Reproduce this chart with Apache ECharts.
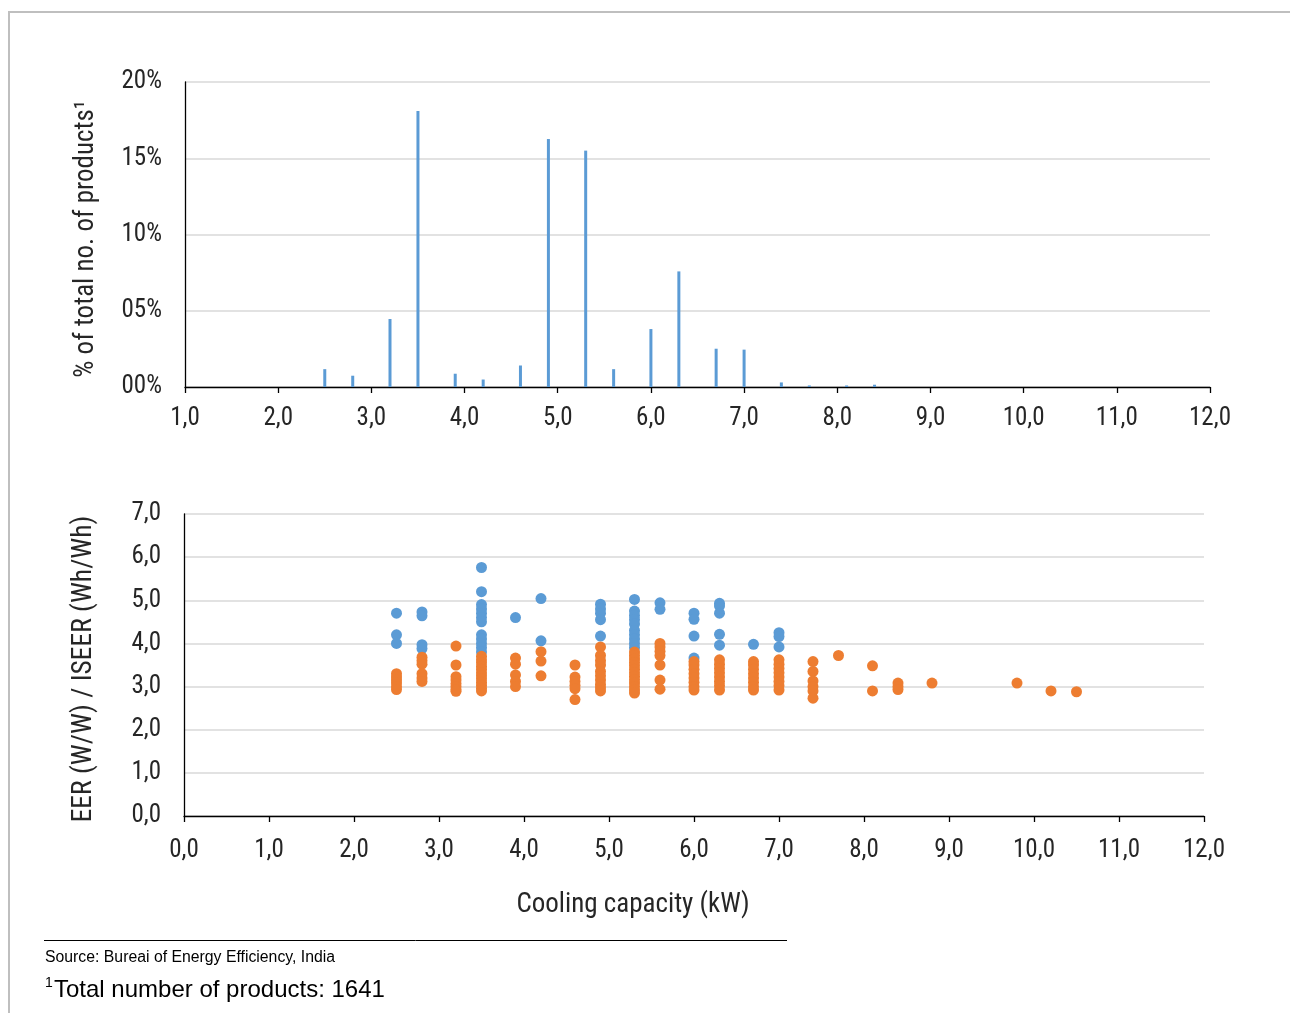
<!DOCTYPE html>
<html>
<head>
<meta charset="utf-8">
<script src="https://cdn.jsdelivr.net/npm/echarts@6/dist/echarts.min.js"></script>
<style>
html,body{margin:0;padding:0;background:#fff;}
#chart{width:1290px;height:1013px;}
</style>
</head>
<body>
<div id="chart"></div>
<script>
// ---- Data: distribution of products by cooling capacity (top chart) ----
const distCapacity = [2.5, 2.8, 3.2, 3.5, 3.9, 4.2, 4.6, 4.9, 5.3, 5.6, 6.0, 6.3, 6.7, 7.0, 7.4, 7.7, 8.1, 8.4];
const distShare    = [1.17, 0.74, 4.46, 18.1, 0.87, 0.49, 1.41, 16.26, 15.5, 1.17, 3.8, 7.58, 2.51, 2.45, 0.30, 0.10, 0.10, 0.15];

// ---- Data: EER (blue) points [capacity kW, EER] ----
const eerPoints = [
  [2.5,4.7],[2.5,4.2],[2.5,4.0],
  [2.8,4.73],[2.8,4.64],[2.8,3.97],[2.8,3.88],
  [3.5,5.76],[3.5,5.2],[3.5,4.9],[3.5,4.8],[3.5,4.7],[3.5,4.6],[3.5,4.5],[3.5,4.2],[3.5,4.1],[3.5,4.0],[3.5,3.9],[3.5,3.8],
  [3.9,4.6],
  [4.2,5.04],[4.2,4.06],
  [4.9,4.91],[4.9,4.8],[4.9,4.7],[4.9,4.55],[4.9,4.17],
  [5.3,5.02],[5.3,4.75],[5.3,4.65],[5.3,4.55],[5.3,4.45],[5.3,4.3],[5.3,4.2],[5.3,4.1],[5.3,4.0],[5.3,3.9],
  [5.6,4.94],[5.6,4.79],
  [6.0,4.7],[6.0,4.56],[6.0,4.17],[6.0,3.66],
  [6.3,4.93],[6.3,4.87],[6.3,4.7],[6.3,4.21],[6.3,3.96],
  [6.7,3.98],
  [7.0,4.25],[7.0,4.16],[7.0,3.92]
];

// ---- Data: ISEER (orange) points [capacity kW, ISEER] ----
const iseerPoints = [
  [2.5,3.3],[2.5,3.22],[2.5,3.15],[2.5,3.08],[2.5,3.0],[2.5,2.93],
  [2.8,3.68],[2.8,3.6],[2.8,3.52],[2.8,3.3],[2.8,3.2],[2.8,3.12],
  [3.2,3.94],[3.2,3.5],[3.2,3.23],[3.2,3.15],[3.2,3.07],[3.2,3.0],[3.2,2.93],[3.2,2.89],
  [3.5,3.7],[3.5,3.62],[3.5,3.55],[3.5,3.47],[3.5,3.4],[3.5,3.32],[3.5,3.25],[3.5,3.18],[3.5,3.1],[3.5,3.03],[3.5,2.96],[3.5,2.9],
  [3.9,3.66],[3.9,3.52],[3.9,3.27],[3.9,3.12],[3.9,3.0],
  [4.2,3.81],[4.2,3.59],[4.2,3.25],
  [4.6,3.5],[4.6,3.22],[4.6,3.12],[4.6,3.03],[4.6,2.95],[4.6,2.7],
  [4.9,3.92],[4.9,3.72],[4.9,3.6],[4.9,3.5],[4.9,3.35],[4.9,3.25],[4.9,3.15],[4.9,3.05],[4.9,2.97],[4.9,2.9],
  [5.3,3.8],[5.3,3.72],[5.3,3.64],[5.3,3.56],[5.3,3.48],[5.3,3.4],[5.3,3.32],[5.3,3.24],[5.3,3.16],[5.3,3.08],[5.3,3.0],[5.3,2.92],[5.3,2.85],
  [5.6,4.0],[5.6,3.92],[5.6,3.82],[5.6,3.72],[5.6,3.5],[5.6,3.15],[5.6,2.94],
  [6.0,3.58],[6.0,3.5],[6.0,3.4],[6.0,3.3],[6.0,3.2],[6.0,3.1],[6.0,3.0],[6.0,2.92],
  [6.3,3.62],[6.3,3.52],[6.3,3.42],[6.3,3.32],[6.3,3.22],[6.3,3.12],[6.3,3.02],[6.3,2.92],
  [6.7,3.58],[6.7,3.5],[6.7,3.4],[6.7,3.3],[6.7,3.2],[6.7,3.1],[6.7,3.0],[6.7,2.92],
  [7.0,3.62],[7.0,3.52],[7.0,3.42],[7.0,3.32],[7.0,3.22],[7.0,3.12],[7.0,3.02],[7.0,2.92],
  [7.4,3.58],[7.4,3.35],[7.4,3.13],[7.4,3.0],[7.4,2.9],[7.4,2.73],
  [7.7,3.72],
  [8.1,3.48],[8.1,2.9],
  [8.4,3.08],[8.4,3.0],[8.4,2.93],
  [8.8,3.08],
  [9.8,3.08],
  [10.2,2.9],
  [10.5,2.88]
];

// ---- Text ----
const topYTitle = '% of total no. of products\u00B9';
const bottomYTitle = 'EER (W/W) / ISEER (Wh/Wh)';
const xTitle = 'Cooling capacity (kW)';
const sourceText = 'Source: Bureai of Energy Efficiency, India';
const noteText = 'Total number of products: 1641';

const NARROW = "'Roboto Condensed', 'Liberation Sans Narrow', Roboto, sans-serif";
const ARIAL = "'Liberation Sans', Arial, sans-serif";
const TXT = '#262626';
const fmtDec = v => v.toFixed(1).replace('.', ',');

const chart = echarts.init(document.getElementById('chart'), null, {renderer: 'canvas'});

const axisLineStyle = {color: '#000', width: 1.3};
const gridLine = {show: true, lineStyle: {color: '#d9d9d9', width: 1.5}};

chart.setOption({
  animation: false,
  backgroundColor: '#fff',
  grid: [
    {left: 185, top: 82, width: 1025, height: 305},
    {left: 184, top: 514, width: 1020, height: 302}
  ],
  xAxis: [
    {
      gridIndex: 0, type: 'value', min: 1, max: 12, interval: 1,
      axisLine: {show: true, onZero: false, lineStyle: axisLineStyle},
      axisTick: {show: true, length: 6, lineStyle: {color: '#000', width: 1.3}},
      splitLine: {show: false},
      axisLabel: {margin: 19, fontSize: 25, color: TXT, fontFamily: NARROW, formatter: fmtDec}
    },
    {
      gridIndex: 1, type: 'value', min: 0, max: 12, interval: 1,
      axisLine: {show: true, onZero: false, lineStyle: axisLineStyle},
      axisTick: {show: true, length: 6, lineStyle: {color: '#000', width: 1.3}},
      splitLine: {show: false},
      axisLabel: {margin: 22, fontSize: 25, color: TXT, fontFamily: NARROW, formatter: fmtDec}
    }
  ],
  yAxis: [
    {
      gridIndex: 0, type: 'value', min: 0, max: 20, interval: 5,
      axisLine: {show: true, lineStyle: axisLineStyle},
      axisTick: {show: false},
      splitLine: gridLine,
      axisLabel: {margin: 23, fontSize: 25, color: TXT, fontFamily: NARROW,
        formatter: v => String(v).padStart(2, '0') + '%'}
    },
    {
      gridIndex: 1, type: 'value', min: 0, max: 7, interval: 1,
      axisLine: {show: true, lineStyle: axisLineStyle},
      axisTick: {show: false},
      splitLine: gridLine,
      axisLabel: {margin: 23, fontSize: 25, color: TXT, fontFamily: NARROW, formatter: fmtDec}
    }
  ],
  series: [
    {
      name: 'Share of products', type: 'bar', xAxisIndex: 0, yAxisIndex: 0,
      barWidth: 3,
      itemStyle: {color: '#5b9bd5'},
      data: distCapacity.map((c, i) => [c, distShare[i]])
    },
    {
      name: 'EER', type: 'scatter', xAxisIndex: 1, yAxisIndex: 1,
      symbolSize: 11,
      itemStyle: {color: '#5b9bd5', opacity: 1},
      data: eerPoints
    },
    {
      name: 'ISEER', type: 'scatter', xAxisIndex: 1, yAxisIndex: 1,
      symbolSize: 11,
      itemStyle: {color: '#ed7d31', opacity: 1},
      data: iseerPoints
    }
  ],
  graphic: [
    {type: 'polyline', silent: true,
      shape: {points: [[9, 1013], [9, 12], [1290, 12]]},
      style: {stroke: '#bfbfbf', lineWidth: 2, fill: null}},
    {type: 'text', x: 86, y: 239, rotation: Math.PI / 2,
      style: {text: topYTitle, font: '27px ' + NARROW, fill: TXT, align: 'center', verticalAlign: 'middle'}},
    {type: 'text', x: 84, y: 669, rotation: Math.PI / 2,
      style: {text: bottomYTitle, font: '27.5px ' + NARROW, fill: TXT, align: 'center', verticalAlign: 'middle'}},
    {type: 'text', x: 633, y: 905,
      style: {text: xTitle, font: '27px ' + NARROW, fill: TXT, align: 'center', verticalAlign: 'middle'}},
    {type: 'line', silent: true,
      shape: {x1: 44, y1: 940.5, x2: 787, y2: 940.5},
      style: {stroke: '#000', lineWidth: 1}},
    {type: 'text', x: 45, y: 958,
      style: {text: sourceText, font: '15.8px ' + ARIAL, fill: '#000', align: 'left', verticalAlign: 'middle'}},
    {type: 'text', x: 45, y: 983,
      style: {text: '1', font: '14px ' + ARIAL, fill: '#000', align: 'left', verticalAlign: 'middle'}},
    {type: 'text', x: 54, y: 990,
      style: {text: noteText, font: '24px ' + ARIAL, fill: '#000', align: 'left', verticalAlign: 'middle'}}
  ]
});
</script>
</body>
</html>
